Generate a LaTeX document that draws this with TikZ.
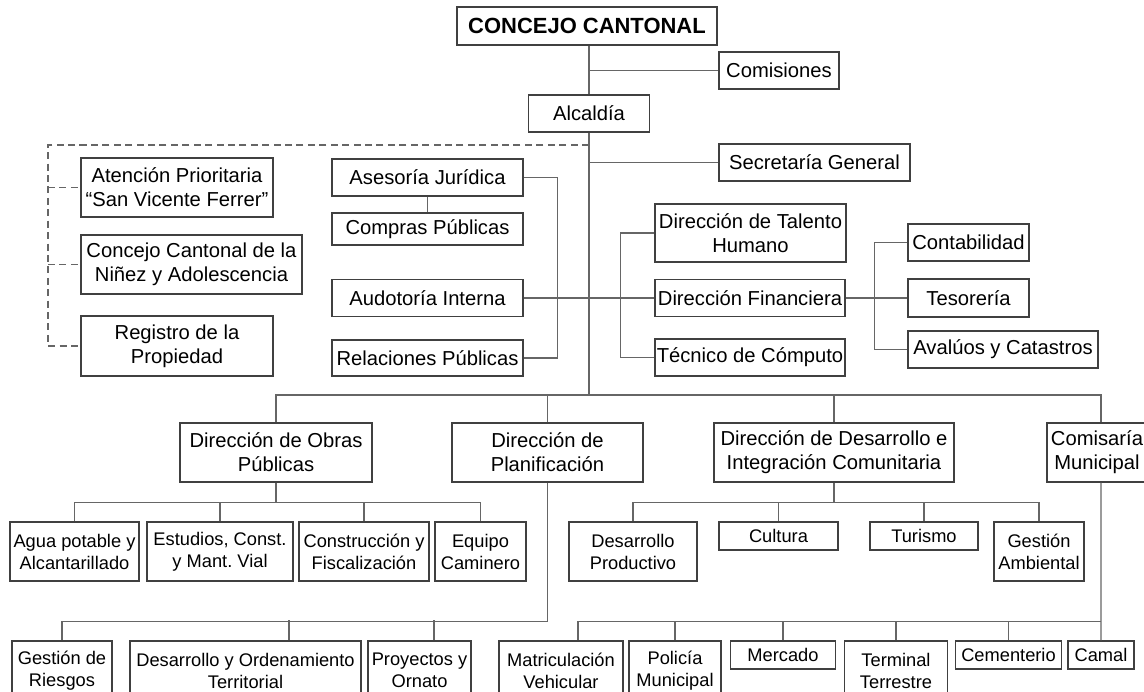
\documentclass[tikz,border=0pt]{standalone}
\usepackage{fontspec}
\setmainfont{Liberation Sans}
\frenchspacing

\begin{document}
\begin{tikzpicture}[
  x=0.02cm, y=-0.02cm,
  box/.style={draw=black!75, line width=0.6pt, inner sep=1pt, align=center,
              font=\fontsize{11.5}{13.7}\selectfont},
  sub/.style={box, font=\fontsize{10.4}{12.5}\selectfont},
  sz/.style 2 args={minimum width=#1*0.02cm, minimum height=#2*0.02cm},
  link/.style={draw=black!60, line width=0.6pt},
  dashlink/.style={link, dash pattern=on 4pt off 2.5pt}
]
  \useasboundingbox (0,0) rectangle (1144,692);

  \node[box, sz={260}{38}, font=\fontsize{12.5}{15}\selectfont\bfseries] (concejo) at (587,26) {CONCEJO CANTONAL};
  \node[box, sz={120}{37}] (comisiones) at (779,70.5)  {Comisiones};
  \node[box, sz={121}{37}] (alcaldia)   at (589,113.5) {Alcaldía};
  \node[box, sz={191}{37}] (secretaria) at (814.5,162.5) {Secretaría General};

  \node[box, sz={192}{59}] (atencion) at (177,187.5)   {Atención Prioritaria\\“San Vicente Ferrer”};
  \node[box, sz={221}{59}] (ninez)    at (191.5,264.5) {Concejo Cantonal de la\\Niñez y Adolescencia};
  \node[box, sz={192}{60}] (registro) at (177,346)     {Registro de la\\Propiedad};

  \node[box, sz={191}{37}] (asesoria)   at (427.5,177.5) {Asesoría Jurídica};
  \node[box, sz={191}{32}] (compras)    at (427.5,229)   {Compras Públicas};
  \node[box, sz={191}{37}] (auditoria)  at (427.5,298)   {Audotoría Interna};
  \node[box, sz={191}{36}] (relaciones) at (427.5,358)   {Relaciones Públicas};

  \node[box, sz={191}{58}] (talento)    at (750.5,233) {Dirección de Talento\\Humano};
  \node[box, sz={190}{37}] (financiera) at (750,298)   {Dirección Financiera};
  \node[box, sz={190}{37}] (tecnico)    at (750,357.5) {Técnico de Cómputo};

  \node[box, sz={121}{37}] (contabilidad) at (968.5,242.5) {Contabilidad};
  \node[box, sz={121}{38}] (tesoreria)    at (968.5,298)   {Tesorería};
  \node[box, sz={190}{37}] (avaluos)      at (1003,349.5)  {Avalúos y Catastros};

  \node[box, sz={192}{59}] (obras)         at (276,452.5)   {Dirección de Obras\\Públicas};
  \node[box, sz={191}{59}] (planificacion) at (547.5,452.5) {Dirección de\\Planificación};
  \node[box, sz={240}{59}] (desarrollo)    at (834,452.5)   {Dirección de Desarrollo e\\Integración Comunitaria};
  \node[box, sz={100}{59}] (comisaria)     at (1097,452.5)  {Comisaría\\Municipal};

  \node[sub, sz={129}{59}] (agua)         at (74.5,551.5) {Agua potable y\\Alcantarillado};
  \node[sub, sz={146}{59}] (estudios)     at (220,551.5)  {Estudios, Const.\\y Mant. Vial};
  \node[sub, sz={130}{59}] (construccion) at (364,551.5)  {Construcción y\\Fiscalización};
  \node[sub, sz={91}{59}]  (equipo)       at (480.5,551.5) {Equipo\\Caminero};

  \node[sub, sz={128}{59}] (productivo) at (633,551.5)  {Desarrollo\\Productivo};
  \node[sub, sz={119}{28}] (cultura)    at (778.5,536)  {Cultura};
  \node[sub, sz={108}{28}] (turismo)    at (924,536)    {Turismo};
  \node[sub, sz={90}{59}]  (ambiental)  at (1039,551.5) {Gestión\\Ambiental};

  \node[sub, sz={100}{59}] (riesgos)      at (62,670.5)    {Gestión de\\Riesgos};
  \node[sub, sz={231}{59}] (ordenamiento) at (245.5,670.5) {Desarrollo y Ordenamiento\\Territorial};
  \node[sub, sz={103}{59}] (proyectos)    at (419.5,670.5) {Proyectos y\\Ornato};

  \node[sub, sz={124}{59}] (matriculacion) at (561,670.5)  {Matriculación\\Vehicular};
  \node[sub, sz={92}{59}]  (policia)       at (675,670.5)  {Policía\\Municipal};
  \node[sub, sz={105}{28}] (mercado)       at (783,655)    {Mercado};
  \node[sub, sz={103}{59}] (terminal)      at (896,670.5)  {Terminal\\Terrestre};
  \node[sub, sz={106}{28}] (cementerio)    at (1008.5,655) {Cementerio};
  \node[sub, sz={66}{28}]  (camal)         at (1101,655)   {Camal};

  \coordinate (bus) at (589,395);
  \coordinate (corner) at (48,145);

  \draw[link] (alcaldia.north |- concejo.south) -- (alcaldia.north);
  \draw[link] (comisiones.west) -- (comisiones.west -| alcaldia);
  \draw[link] (alcaldia.south) -- (bus);
  \draw[link] (secretaria.west) -- (secretaria.west -| alcaldia);

  \draw[dashlink] (alcaldia |- corner) -- (corner) |- (registro.west);
  \draw[dashlink] (corner |- atencion.west) -- (atencion.west);
  \draw[dashlink] (corner |- ninez.west) -- (ninez.west);

  \draw[link] (asesoria) -- (compras);
  \draw[link] (asesoria.east) -- ++(34,0) |- (relaciones.east);
  \draw[link] (auditoria.east) -- (financiera.west);
  \draw[link] (talento.west) -- ++(-34,0) |- (tecnico.west);
  \draw[link] (financiera.east) -- (tesoreria.west);
  \draw[link] (contabilidad.west) -- ++(-33,0) |- (avaluos.west);

  \draw[link] (obras.north) |- (bus) -| ([xshift=0.08cm]comisaria.north);
  \draw[link] (planificacion.north) -- (planificacion.north |- bus);
  \draw[link] (desarrollo.north) -- (desarrollo.north |- bus);

  \draw[link] (obras.south) -- ++(0,20) coordinate (obrasbus);
  \draw[link] (agua.north) |- (obrasbus) -| (equipo.north);
  \draw[link] (estudios.north) -- (estudios.north |- obrasbus);
  \draw[link] (construccion.north) -- (construccion.north |- obrasbus);

  \draw[link] (desarrollo.south) -- ++(0,20) coordinate (desbus);
  \draw[link] (productivo.north) |- (desbus) -| (ambiental.north);
  \draw[link] (cultura.north) -- (cultura.north |- desbus);
  \draw[link] (turismo.north) -- (turismo.north |- desbus);

  \draw[link] (planificacion.south) -- ++(0,139) coordinate (planbus);
  \draw[link] (riesgos.north) |- (planbus);
  \draw[link] ([xshift=0.87cm]ordenamiento.north) -- ++(0,-20);
  \draw[link] ([xshift=0.29cm]proyectos.north) -- ++(0,-20);

  \path ([xshift=0.08cm]comisaria.south) ++(0,139) coordinate (comibus);
  \draw[link] ([xshift=0.08cm]comisaria.south) -- (camal.north);
  \draw[link] ([xshift=0.34cm]matriculacion.north) |- (comibus);
  \draw[link] (policia.north) -- (policia.north |- comibus);
  \draw[link] (mercado.north) -- (mercado.north |- comibus);
  \draw[link] (terminal.north) -- (terminal.north |- comibus);
  \draw[link] (cementerio.north) -- (cementerio.north |- comibus);
\end{tikzpicture}
\end{document}
